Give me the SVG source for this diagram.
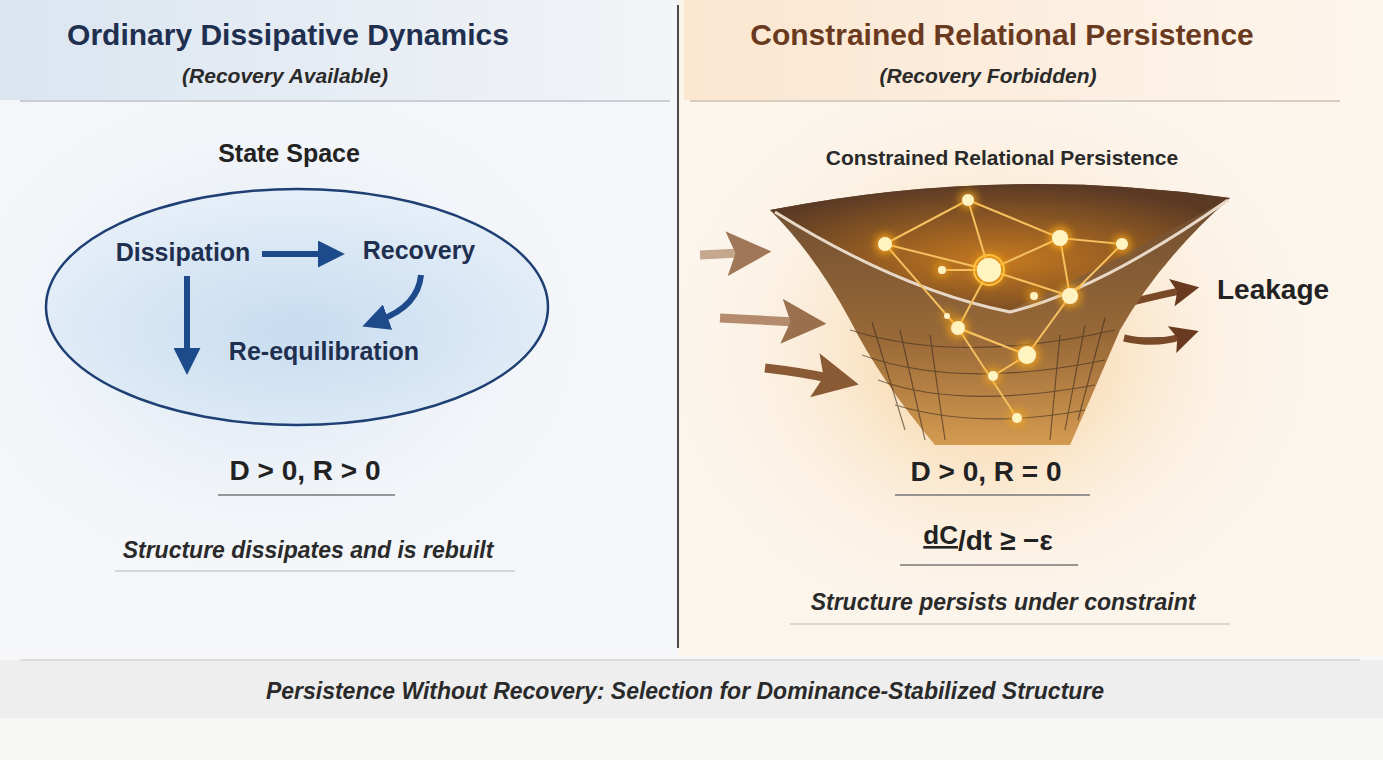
<svg xmlns="http://www.w3.org/2000/svg" width="1383" height="760" viewBox="0 0 1383 760">
<defs>
<style>
.t{font-family:"Liberation Sans","Open Sans",sans-serif;font-weight:bold;fill:#1f2f4f}
.ti{font-family:"Liberation Sans","Open Sans",sans-serif;font-style:italic;font-weight:bold;fill:#2a2a2a}
.lk{stroke:#f5c060;stroke-width:2;fill:none}
.nd{fill:#fff3c0;filter:url(#g)}
</style>
<linearGradient id="lh" x1="0" x2="1"><stop offset="0" stop-color="#dbe5f0"/><stop offset="1" stop-color="#f2f4f7"/></linearGradient>
<linearGradient id="rh" x1="0" x2="1"><stop offset="0" stop-color="#fbe6d0"/><stop offset="1" stop-color="#fdf6ee"/></linearGradient>
<radialGradient id="el" cx="0.5" cy="0.6" r="0.6"><stop offset="0" stop-color="#c7dcf0"/><stop offset="1" stop-color="#e6eff8"/></radialGradient>
<radialGradient id="glowL" cx="0.45" cy="0.5" r="0.5"><stop offset="0" stop-color="#cfe0f1"/><stop offset="1" stop-color="#f6f8fb" stop-opacity="0"/></radialGradient>
<radialGradient id="glowR" cx="0.5" cy="0.5" r="0.5"><stop offset="0" stop-color="#f7c98a"/><stop offset="1" stop-color="#fdf6ee" stop-opacity="0"/></radialGradient>
<linearGradient id="fn" x1="0" x2="0" y1="0" y2="1"><stop offset="0" stop-color="#6a4a30"/><stop offset="0.6" stop-color="#9a6a38"/><stop offset="1" stop-color="#d49a50"/></linearGradient>
<radialGradient id="fc" cx="0.5" cy="0.6" r="0.6"><stop offset="0" stop-color="#c77a20"/><stop offset="1" stop-color="#5a3a25"/></radialGradient>
<filter id="g" x="-2" y="-2" width="5" height="5"><feGaussianBlur in="SourceGraphic" stdDeviation="3" result="b"/><feFlood flood-color="#ffae20"/><feComposite operator="in" in2="b"/><feGaussianBlur stdDeviation="4"/><feMerge><feMergeNode/><feMergeNode/><feMergeNode in="SourceGraphic"/></feMerge></filter>
<marker id="ab" viewBox="0 0 10 10" refX="3" refY="5" markerWidth="4.5" markerHeight="4.5" orient="auto"><path d="M0,0L10,5L0,10Z" fill="#1d4a8a"/></marker>
<marker id="ao" viewBox="0 0 10 10" refX="3" refY="5" markerWidth="5" markerHeight="5" orient="auto"><path d="M0,0L10,5L0,10L2,5Z" fill="#8a5a35"/></marker>
<marker id="ad" viewBox="0 0 10 10" refX="3" refY="5" markerWidth="4" markerHeight="4" orient="auto"><path d="M0,0L10,5L0,10L2,5Z" fill="#6a3a20"/></marker>
</defs>
<rect width="1383" height="760" fill="#f7f7f6"/>
<rect x="0" y="0" width="678" height="655" fill="#f4f6f9"/>
<rect x="678" y="0" width="705" height="655" fill="#fcf5ec"/>
<ellipse cx="300" cy="330" rx="330" ry="260" fill="url(#glowL)"/>
<ellipse cx="990" cy="350" rx="330" ry="290" fill="url(#glowR)"/>
<rect x="0" y="0" width="672" height="100" fill="url(#lh)"/>
<rect x="684" y="0" width="699" height="100" fill="url(#rh)"/>
<line x1="20" y1="101" x2="670" y2="101" stroke="#c9ced6" stroke-width="2"/>
<line x1="690" y1="101" x2="1340" y2="101" stroke="#d9cdbf" stroke-width="2"/>
<line x1="678" y1="5" x2="678" y2="648" stroke="#4a4a4a" stroke-width="2"/>

<g id="left-title"><text class="t" x="288" y="45" font-size="30" text-anchor="middle">Ordinary Dissipative Dynamics</text>
<text class="ti" x="285" y="83" font-size="21" text-anchor="middle">(Recovery Available)</text></g>
<g id="right-title"><text class="t" x="1002" y="45" font-size="30" text-anchor="middle" style="fill:#6a3a20">Constrained Relational Persistence</text>
<text class="ti" x="988" y="83" font-size="21" text-anchor="middle">(Recovery Forbidden)</text></g>

<g id="state-space">
<text class="t" x="289" y="162" font-size="25" text-anchor="middle" style="fill:#222">State Space</text>
<ellipse cx="297" cy="307" rx="251" ry="118" fill="url(#el)" stroke="#1d3f73" stroke-width="2.5"/>
</g>
<g id="dissipation"><text class="t" x="183" y="261" font-size="25" text-anchor="middle">Dissipation</text></g>
<g id="recovery"><text class="t" x="419" y="259" font-size="25" text-anchor="middle">Recovery</text></g>
<g id="requilibration"><text class="t" x="324" y="360" font-size="25" text-anchor="middle">Re-equilibration</text></g>
<g id="connectors">
<line x1="262" y1="254" x2="326" y2="254" stroke="#1d4a8a" stroke-width="6" marker-end="url(#ab)"/>
<path d="M421,275 Q418,306 380,320" stroke="#1d4a8a" stroke-width="6" fill="none" marker-end="url(#ab)"/>
<line x1="187" y1="276" x2="187" y2="356" stroke="#1d4a8a" stroke-width="6" marker-end="url(#ab)"/>
<path d="M700,255 L740,253" stroke="#b89478" stroke-width="9" marker-end="url(#ao)" opacity="0.8"/>
<path d="M720,318 L795,322" stroke="#a87a58" stroke-width="9" marker-end="url(#ao)" opacity="0.85"/>
<path d="M765,368 Q800,372 828,378" stroke="#8a5a35" stroke-width="9" marker-end="url(#ao)"/>
<path d="M1132,302 Q1160,295 1180,291" stroke="#7a4a28" stroke-width="7" marker-end="url(#ad)"/>
<path d="M1124,338 Q1155,345 1180,337" stroke="#7a4a28" stroke-width="7" marker-end="url(#ad)"/>
</g>
<g id="left-formula"><text class="t" x="305" y="480" font-size="28" text-anchor="middle" style="fill:#222">D &gt; 0, R &gt; 0</text>
<line x1="218" y1="495" x2="395" y2="495" stroke="#777" stroke-width="1.5"/>
<text class="ti" x="308" y="558" font-size="23" text-anchor="middle">Structure dissipates and is rebuilt</text>
<line x1="115" y1="571" x2="515" y2="571" stroke="#ccc" stroke-width="1.5"/></g>

<g id="funnel">
<text class="t" x="1002" y="165" font-size="21" text-anchor="middle" style="fill:#2a2a2a">Constrained Relational Persistence</text>
<path d="M770,210 Q1000,165 1230,198 Q1160,260 1120,330 Q1090,400 1070,445 L935,445 Q880,380 850,320 Q815,255 770,210Z" fill="url(#fn)"/>
<path d="M770,210 Q1000,165 1230,198 Q1100,270 1010,310 Q900,290 770,210Z" fill="url(#fc)"/>
<path d="M775,212 Q900,290 1010,312 Q1100,290 1228,200" stroke="#e8d8c8" stroke-width="3" fill="none"/>
<g stroke="#3a2a20" stroke-width="1.2" opacity="0.6" fill="none">
<path d="M850,330 Q960,365 1115,330"/><path d="M862,355 Q960,390 1105,360"/><path d="M878,380 Q960,410 1095,385"/><path d="M895,405 Q980,430 1085,410"/>
<path d="M872,322 L905,430"/><path d="M900,330 L925,440"/><path d="M930,335 L945,440"/><path d="M1060,335 L1050,440"/><path d="M1085,325 L1065,430"/><path d="M1105,318 L1078,420"/>
</g>
<g class="lk"><path d="M885,244 L968,200 L989,270 L885,244"/><path d="M968,200 L1060,238 L989,270 L1070,296 L1060,238 L1122,244 L1070,296 L1027,355 L958,328 L989,270"/><path d="M885,244 L958,328 L1017,418 M993,376 L1027,355 M958,328 L1027,355 M942,270 L989,270"/></g>
<circle class="nd" cx="885" cy="244" r="7"/><circle class="nd" cx="968" cy="200" r="6"/><circle class="nd" cx="989" cy="270" r="12"/><circle cx="989" cy="270" r="15" fill="none" stroke="#ffc040" stroke-width="2"/>
<circle class="nd" cx="1060" cy="238" r="8"/><circle class="nd" cx="1122" cy="244" r="6"/><circle class="nd" cx="1070" cy="296" r="8"/><circle class="nd" cx="958" cy="328" r="7"/><circle class="nd" cx="1027" cy="355" r="9"/><circle class="nd" cx="993" cy="376" r="5"/><circle class="nd" cx="1017" cy="418" r="5"/><circle class="nd" cx="942" cy="270" r="4"/><circle class="nd" cx="1034" cy="296" r="4"/><circle class="nd" cx="947" cy="316" r="3"/>
</g>
<g id="leakage"><text class="t" x="1217" y="299" font-size="28" style="fill:#222">Leakage</text></g>
<g id="right-formula"><text class="t" x="986" y="481" font-size="28" text-anchor="middle" style="fill:#222">D &gt; 0, R = 0</text>
<line x1="895" y1="495" x2="1090" y2="495" stroke="#777" stroke-width="1.5"/>
<text class="t" x="988" y="550" font-size="28" text-anchor="middle" style="fill:#222"><tspan font-size="26" dy="-6" text-decoration="underline">dC</tspan><tspan dy="6">/dt ≥ −ε</tspan></text>
<line x1="900" y1="565" x2="1078" y2="565" stroke="#777" stroke-width="1.5"/>
<text class="ti" x="1003" y="610" font-size="23" text-anchor="middle">Structure persists under constraint</text>
<line x1="790" y1="624" x2="1230" y2="624" stroke="#ccc" stroke-width="1.5"/></g>
<g id="footer"><rect x="0" y="660" width="1383" height="58" fill="#eeeeee"/>
<line x1="20" y1="660" x2="1360" y2="660" stroke="#ddd" stroke-width="2"/>
<text class="ti" x="685" y="699" font-size="23" text-anchor="middle">Persistence Without Recovery: Selection for Dominance-Stabilized Structure</text></g>
</svg>
